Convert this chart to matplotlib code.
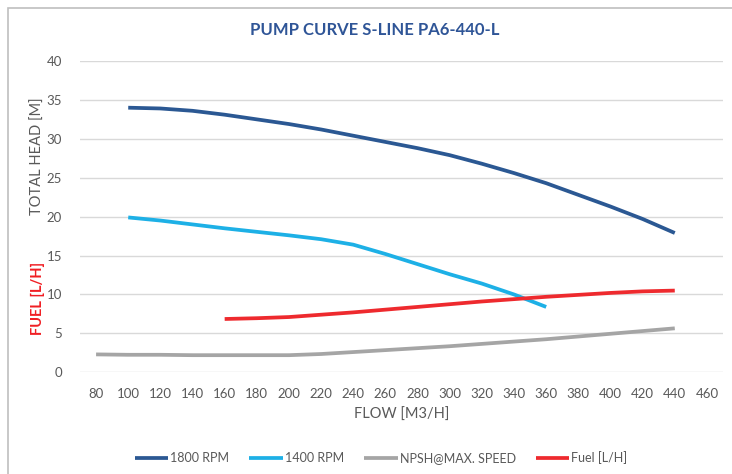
import matplotlib
matplotlib.use("Agg")
import matplotlib.pyplot as plt
from matplotlib.patches import Rectangle

plt.rcParams['font.family'] = ['Lato', 'DejaVu Sans']

# Data
flow_1800 = [100, 120, 140, 160, 180, 200, 220, 240, 260, 280, 300, 320, 340, 360, 380, 400, 420, 440]
head_1800 = [34.0, 33.9, 33.6, 33.1, 32.5, 31.9, 31.2, 30.4, 29.6, 28.8, 27.9, 26.8, 25.6, 24.3, 22.8, 21.3, 19.7, 17.9]

flow_1400 = [100, 120, 140, 160, 180, 200, 220, 240, 260, 280, 300, 320, 340, 360]
head_1400 = [19.9, 19.5, 19.0, 18.5, 18.05, 17.6, 17.1, 16.4, 15.2, 13.9, 12.6, 11.4, 10.0, 8.4]

flow_npsh = [80, 100, 120, 140, 160, 180, 200, 220, 240, 260, 280, 300, 320, 340, 360, 380, 400, 420, 440]
npsh = [2.3, 2.25, 2.25, 2.2, 2.2, 2.2, 2.2, 2.35, 2.6, 2.85, 3.1, 3.35, 3.65, 3.95, 4.25, 4.6, 4.95, 5.3, 5.65]

flow_fuel = [160, 180, 200, 220, 240, 260, 280, 300, 320, 340, 360, 380, 400, 420, 440]
fuel = [6.85, 6.95, 7.1, 7.4, 7.7, 8.05, 8.4, 8.75, 9.1, 9.4, 9.7, 9.95, 10.2, 10.4, 10.5]

x_ticks = list(range(80, 461, 20))
y_ticks = list(range(0, 41, 5))

labels = ['1800 RPM', '1400 RPM', 'NPSH@MAX. SPEED', 'Fuel [L/H]']
colors = ['#2B5893', '#1DB0E6', '#A5A5A5', '#EE2A2E']

W, H = 732, 474
fig = plt.figure(figsize=(W / 100, H / 100), dpi=100)
fig.patch.set_facecolor('white')

# outer chart border
fig.add_artist(Rectangle((8 / W, -0.05), 1.1, (H - 8) / H + 0.05, transform=fig.transFigure,
                         fill=False, edgecolor='#BFBFBF', linewidth=1.2))

ax = fig.add_axes([80 / W, (H - 372.3) / H, 643 / W, 311.3 / H])
ax.set_xlim(70, 470)
ax.set_ylim(0, 40)
ax.set_xticks(x_ticks)
ax.set_yticks(y_ticks)
ax.grid(axis='y', color='#D9D9D9', linewidth=1.0)
ax.set_axisbelow(True)
for s in ax.spines.values():
    s.set_visible(False)
ax.tick_params(length=0, labelsize=9.5, colors='#595959', pad=11)
ax.tick_params(axis='y', pad=13)

lw = 2.7
ax.plot(flow_1800, head_1800, color=colors[0], lw=lw, label=labels[0], solid_capstyle='butt')
ax.plot(flow_1400, head_1400, color=colors[1], lw=lw, label=labels[1], solid_capstyle='butt')
ax.plot(flow_npsh, npsh, color=colors[2], lw=lw, label=labels[2], solid_capstyle='butt')
ax.plot(flow_fuel, fuel, color=colors[3], lw=lw, label=labels[3], solid_capstyle='butt')

ax.set_xlabel('FLOW [M3/H]', color='#595959', fontsize=10.5, labelpad=6)

fig.text(375 / W, 1 - 30 / H, 'PUMP CURVE S-LINE PA6-440-L', ha='center', va='center',
         fontsize=12, fontweight='bold', color='#2F5597')
fig.text(38 / W, 1 - 156 / H, 'TOTAL HEAD [M]', rotation=90, ha='center', va='center',
         fontsize=10.5, color='#595959')
fig.text(38 / W, 1 - 298 / H, 'FUEL [L/H]', rotation=90, ha='center', va='center',
         fontsize=10.5, fontweight='bold', color='#F01E23')

fig.legend(loc='center', bbox_to_anchor=(381 / W, 1 - 458 / H), ncol=4, frameon=False,
           fontsize=9, labelcolor='#595959', handlelength=2.7, handletextpad=0.15,
           columnspacing=1.6)

fig.savefig('out.png', dpi=100, facecolor='white')
